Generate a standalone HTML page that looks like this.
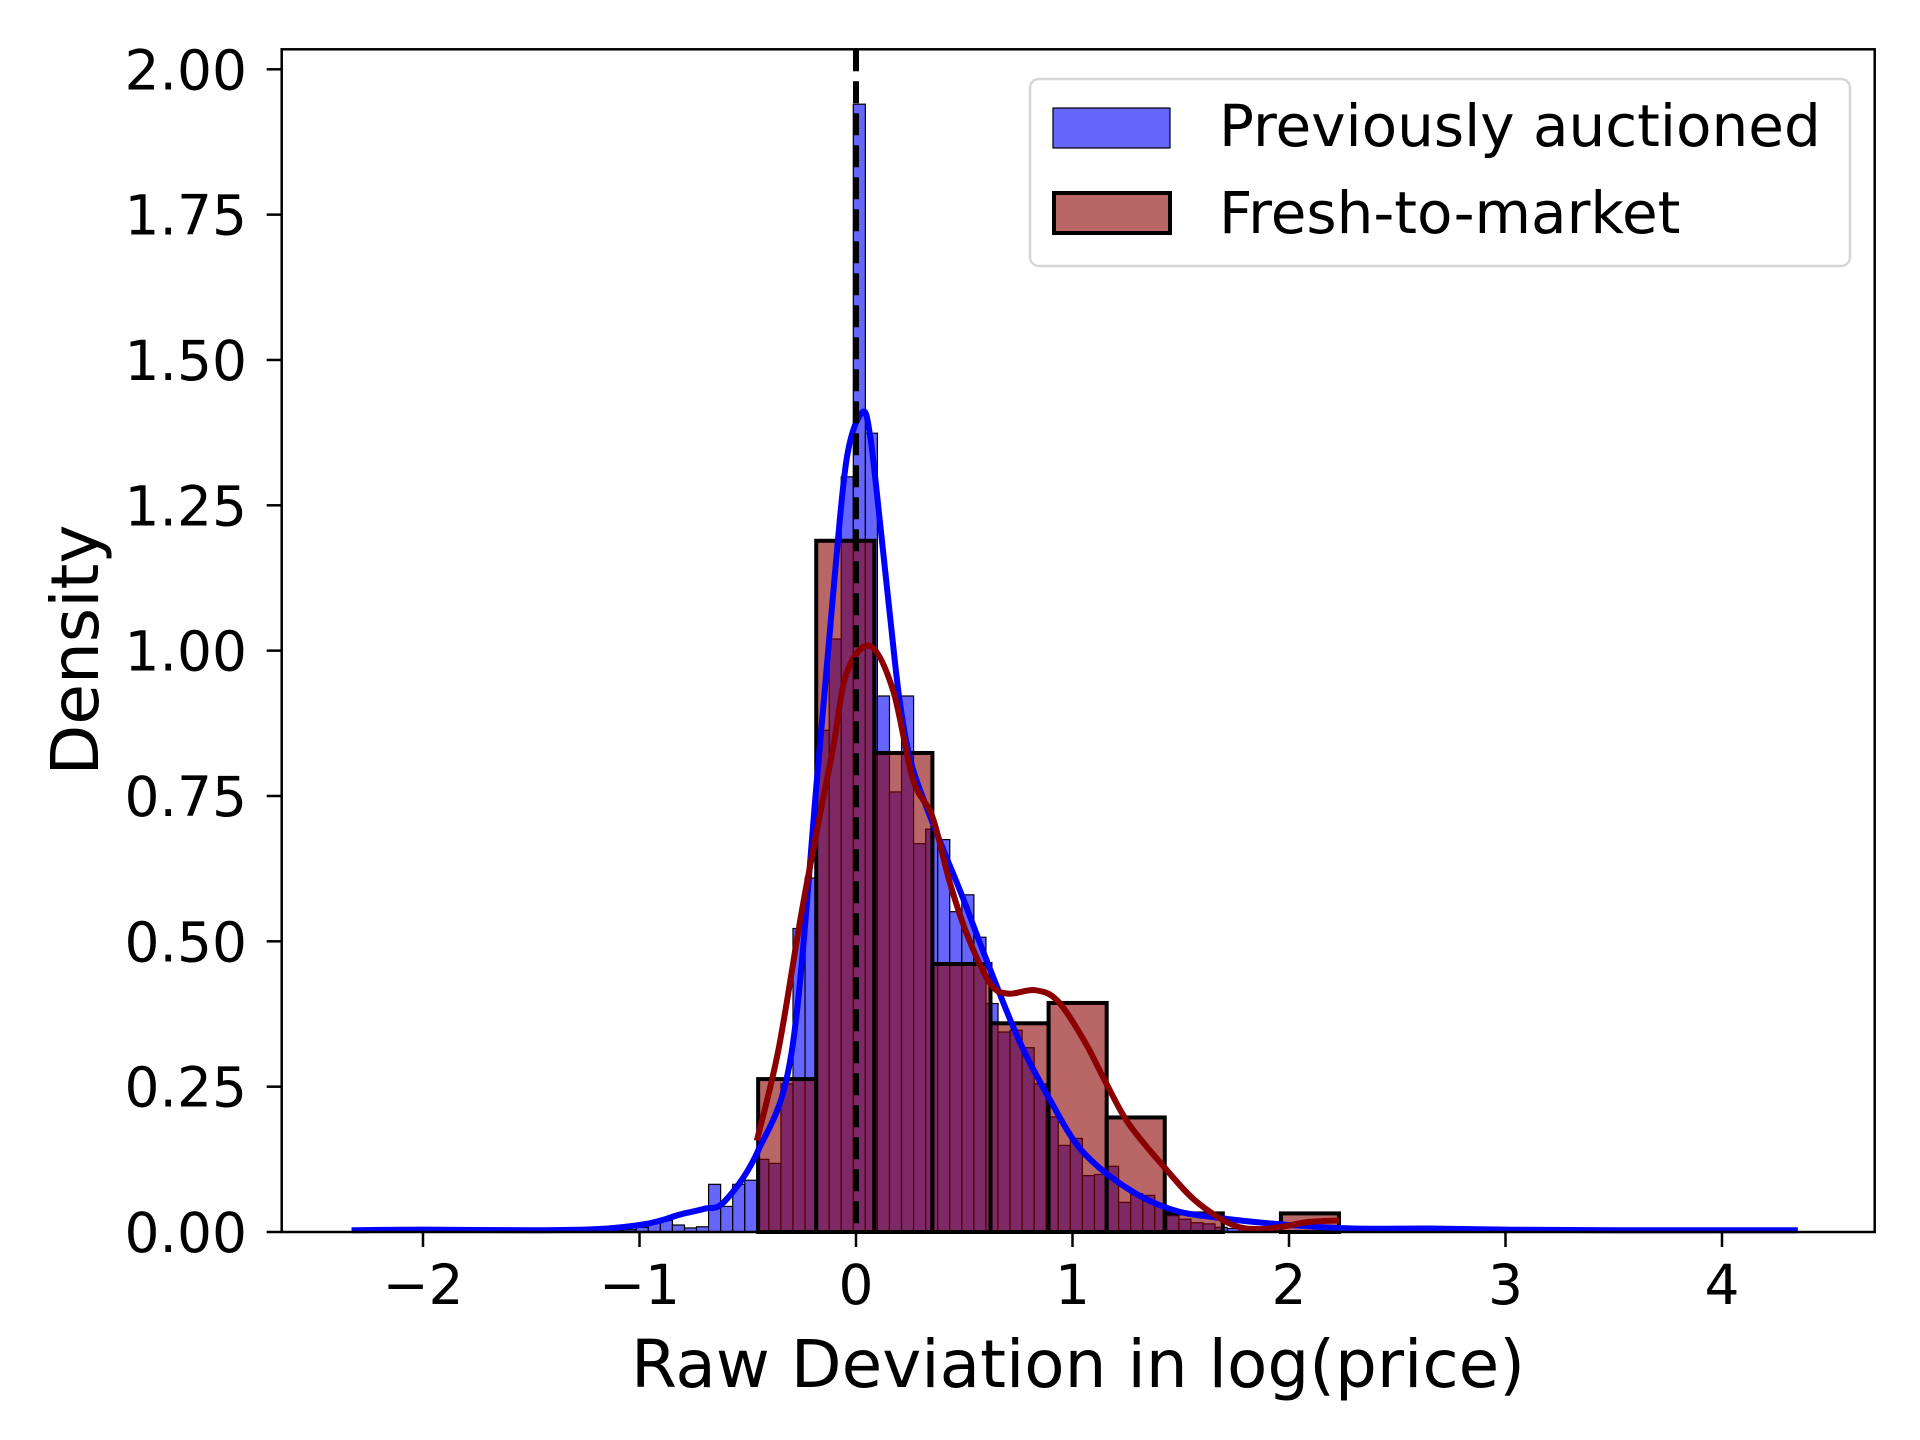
<!DOCTYPE html>
<html><head><meta charset="utf-8"><style>
html,body{margin:0;padding:0;background:#fff;}
svg{display:block;}
text{font-family:"DejaVu Sans","Liberation Sans",sans-serif;fill:#000;}
</style></head><body>
<svg id="chart" width="1920" height="1440" viewBox="0 0 1920 1440" xmlns="http://www.w3.org/2000/svg">
<rect x="281.7" y="49.3" width="1593" height="1182.7" fill="#fff"/>
<g id="bars-blue"></g>
<g id="bars-red"></g>
<g id="lines"></g>
<line id="zero-line" stroke="#000" stroke-width="6" stroke-dasharray="22,10"/>
<rect x="281.7" y="49.3" width="1593" height="1182.7" fill="none" stroke="#000" stroke-width="2.5"/>
<g id="xticks"></g>
<g id="yticks"></g>
<text x="1078" y="1387" font-size="66" text-anchor="middle">Raw Deviation in log(price)</text>
<text x="98" y="650" font-size="66" text-anchor="middle" transform="rotate(-90 98 650)">Density</text>
<g>
<rect x="1030" y="79" width="820" height="187" rx="9" fill="#fff" fill-opacity="0.8" stroke="#d6d6d6" stroke-width="2.5"/>
<g>
<rect x="1053" y="108" width="117" height="40" fill="#6666ff" stroke="#000" stroke-width="1.2"/>
<text x="1219" y="146" font-size="58">Previously auctioned</text>
</g>
<g>
<rect x="1054" y="193" width="116" height="40" fill="#b86666" stroke="#000" stroke-width="4"/>
<text x="1219" y="233" font-size="58">Fresh-to-market</text>
</g>
</g>
</svg>
<script>
// ---- data ----
const blueBinStart = -1.1265;
const blueBinWidth = 0.0557;
const blueHeights = [0.003,0.004,0.008,0.015,0.02,0.012,0.007,0.009,0.082,0.044,0.082,0.089,0.125,0.118,0.255,0.522,0.609,0.863,1.02,1.299,
  1.94,1.374,0.922,0.757,0.922,0.668,0.693,0.675,0.551,0.580,0.507,0.393,0.344,0.347,0.317,0.255,0.198,0.149,0.161,0.097,0.099,0.113,0.051,0.066,0.063,0.046,0.028,0.022,0.016,0.014,0.008,0.006,0.005,0.004,0.003,0.002];
const redBinStart = -0.452;
const redBinWidth = 0.2683;
const redHeights = [0.263,1.189,0.824,0.461,0.359,0.394,0.197,0.032,0,0.032];
const blueKdeX = [-2.33,-2.0,-1.5,-1.2,-1.0,-0.9,-0.813,-0.7,-0.606,-0.452,-0.297,-0.18,-0.105,-0.043,0.029,0.065,0.111,0.157,0.203,0.26,0.373,0.486,0.61,0.754,0.898,1.043,1.249,1.455,1.661,1.97,2.3,2.65,3.0,3.5,4.35];
const blueKdeY = [0.003,0.004,0.003,0.005,0.012,0.02,0.03,0.04,0.053,0.14,0.31,0.78,1.10,1.33,1.41,1.37,1.22,1.06,0.91,0.80,0.686,0.582,0.461,0.329,0.226,0.14,0.076,0.039,0.025,0.013,0.006,0.006,0.004,0.003,0.003];
const redKdeX = [-0.458,-0.359,-0.255,-0.183,-0.106,-0.043,0.065,0.171,0.263,0.353,0.435,0.518,0.621,0.703,0.827,0.93,1.054,1.157,1.26,1.425,1.57,1.735,1.859,1.982,2.085,2.233];
const redKdeY = [0.157,0.312,0.542,0.686,0.832,0.962,1.008,0.932,0.779,0.714,0.599,0.507,0.427,0.410,0.416,0.398,0.329,0.255,0.186,0.111,0.053,0.013,0.005,0.010,0.017,0.020];
const xTickValues = [-2,-1,0,1,2,3,4];
const xTickLabels = ["\u22122","\u22121","0","1","2","3","4"];
const yTickValues = [0,0.25,0.5,0.75,1.0,1.25,1.5,1.75,2.0];
const yTickLabels = ["0.00","0.25","0.50","0.75","1.00","1.25","1.50","1.75","2.00"];

// ---- scales ----
const NS = "http://www.w3.org/2000/svg";
function xs(v){ return 856 + 216.5 * v; }
function ys(v){ return 1232 - 581.35 * v; }
function mk(tag, attrs, parent){
  const el = document.createElementNS(NS, tag);
  for (const k in attrs) el.setAttribute(k, attrs[k]);
  parent.appendChild(el);
  return el;
}

const gb = document.getElementById('bars-blue');
blueHeights.forEach((h, i) => {
  if (h <= 0) return;
  const x0 = xs(blueBinStart + i * blueBinWidth), x1 = xs(blueBinStart + (i + 1) * blueBinWidth);
  const r = mk('rect', {x: x0, y: ys(h), width: x1 - x0, height: ys(0) - ys(h), fill: '#6666ff', stroke: '#000', 'stroke-width': 1.2}, gb);
  
  
});

const gr = document.getElementById('bars-red');
redHeights.forEach((h, i) => {
  if (h <= 0) return;
  const x0 = xs(redBinStart + i * redBinWidth), x1 = xs(redBinStart + (i + 1) * redBinWidth);
  const r = mk('rect', {x: x0, y: ys(h), width: x1 - x0, height: ys(0) - ys(h), fill: 'rgb(139,0,0)', 'fill-opacity': 0.6, stroke: '#000', 'stroke-width': 4}, gr);
  
  
});

function smoothPath(X, Y){
  const p = X.map((x, i) => [xs(x), ys(Y[i])]);
  let d = 'M' + p[0][0] + ',' + p[0][1];
  for (let i = 0; i < p.length - 1; i++){
    const p0 = p[i - 1] || p[i], p1 = p[i], p2 = p[i + 1], p3 = p[i + 2] || p2;
    const c1x = p1[0] + (p2[0] - p0[0]) / 6, c1y = p1[1] + (p2[1] - p0[1]) / 6;
    const c2x = p2[0] - (p3[0] - p1[0]) / 6, c2y = p2[1] - (p3[1] - p1[1]) / 6;
    d += ' C' + c1x + ',' + c1y + ' ' + c2x + ',' + c2y + ' ' + p2[0] + ',' + p2[1];
  }
  return d;
}
const gl = document.getElementById('lines');
const lb = mk('path', {d: smoothPath(blueKdeX, blueKdeY), fill: 'none', stroke: '#0000ff', 'stroke-width': 6, 'stroke-linejoin': 'round'}, gl);


const lr = mk('path', {d: smoothPath(redKdeX, redKdeY), fill: 'none', stroke: '#8b0000', 'stroke-width': 6, 'stroke-linejoin': 'round'}, gl);



const zl = document.getElementById('zero-line');
zl.setAttribute('x1', xs(0)); zl.setAttribute('x2', xs(0));
zl.setAttribute('y1', 49.3); zl.setAttribute('y2', 1232);

const gx = document.getElementById('xticks');
xTickValues.forEach((v, i) => {
  const t = mk('line', {x1: xs(v), x2: xs(v), y1: 1232, y2: 1247, stroke: '#000', 'stroke-width': 2.5}, gx);
  
  
  const tx = mk('text', {x: xs(v), y: 1304, 'font-size': 55, 'text-anchor': 'middle'}, gx);
  tx.textContent = xTickLabels[i];
  
  
});
const gy = document.getElementById('yticks');
yTickValues.forEach((v, i) => {
  const t = mk('line', {x1: 266.7, x2: 281.7, y1: ys(v), y2: ys(v), stroke: '#000', 'stroke-width': 2.5}, gy);
  
  
  const tx = mk('text', {x: 247, y: ys(v) + 20, 'font-size': 55, 'text-anchor': 'end'}, gy);
  tx.textContent = yTickLabels[i];
  
  
});
</script>
</body></html>
